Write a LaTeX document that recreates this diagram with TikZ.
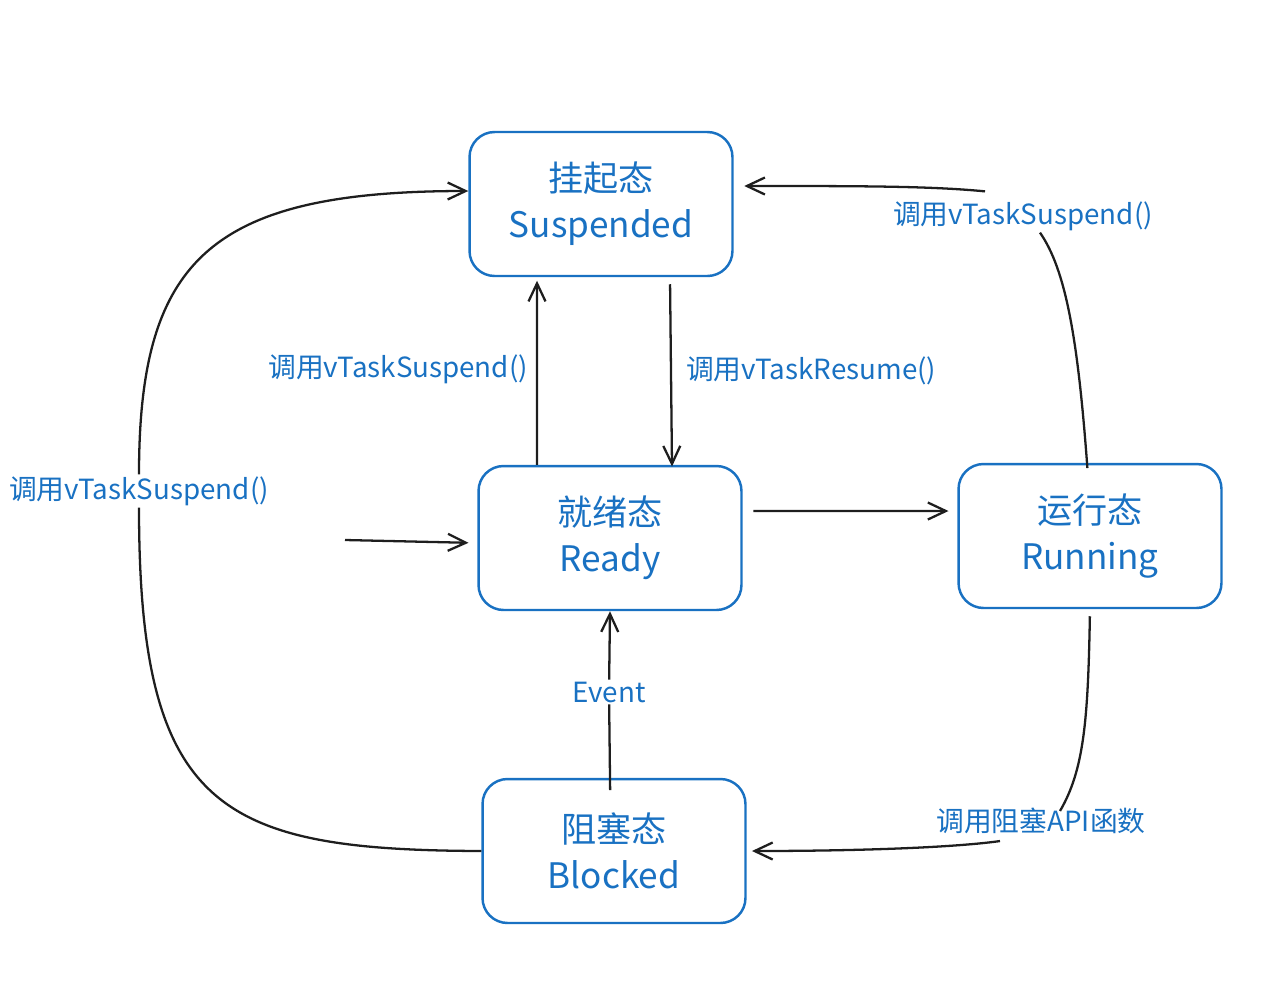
\documentclass[tikz,border=0pt]{standalone}
\usepackage{fontspec}
\setmainfont{Noto Sans CJK SC}
\usetikzlibrary{arrows.meta, positioning, calc}
\definecolor{stateblue}{HTML}{1971C2}
\definecolor{inkblack}{HTML}{1E1E1E}

\begin{document}
\begin{tikzpicture}[x=0.02cm, y=-0.02cm,
  state/.style={draw=stateblue, line width=1.4pt, rounded corners=0.5cm,
    minimum width=5.26cm, minimum height=2.88cm, align=center,
    text=stateblue, font=\fontsize{20}{26}\selectfont},
  lbl/.style={text=stateblue, font=\fontsize{15.8}{17}\selectfont, inner sep=1pt},
  trans/.style={draw=inkblack, line width=1.3pt,
    -{Straight Barb[length=3.6mm, width=3.4mm]}},
  plain/.style={draw=inkblack, line width=1.3pt}]
  \useasboundingbox (0,0) rectangle (1271,981);

  % states
  \node [state] (susp) at (601,204) {挂起态\\Suspended};
  \node [state] (rdy) at (610,538) {就绪态\\Ready};
  \node [state] (run) at (1090,536) {运行态\\Running};
  \node [state] (blk) at (614,851) {阻塞态\\Blocked};

  % labels
  \node [lbl, anchor=east] (lsr) at (530,369) {调用vTaskSuspend()};
  \node [lbl, anchor=west] (lrs) at (684,371) {调用vTaskResume()};
  \node [lbl] (lev) at (609,692) {Event};
  \node [lbl] (lbs) at (139,491) {调用vTaskSuspend()};
  \node [lbl] (lrun) at (1023,216) {调用vTaskSuspend()};
  \node [lbl] (lblk) at (1041,821) {调用阻塞API函数};
  \coordinate (start) at (345,540);

  % ready <-> suspended
  \draw [trans, shorten >=2] ([xshift=-1.46cm]rdy.north) -- ([xshift=-1.28cm]susp.south);
  \draw [trans, shorten <=4, shorten >=-1] ([xshift=1.38cm]susp.south) -- ([xshift=1.24cm]rdy.north);

  % ready -> running, start -> ready
  \draw [trans, shorten <=6, shorten >=5] ([yshift=0.54cm]rdy.east) -- ([yshift=0.5cm]run.west);
  \draw [trans, shorten >=5] (start) -- ([yshift=-0.1cm]rdy.west);

  % blocked -> ready
  \draw [plain, shorten <=-7] ([xshift=-0.08cm]blk.north) -- (lev);
  \draw [trans] (lev) -- (rdy.south);

  % running -> suspended
  \draw [plain, shorten <=-3] ([xshift=-0.06cm]run.north) .. controls (1078,340) and (1066,270) .. ([xshift=0.34cm]lrun.south);
  \draw [trans, shorten >=6] ([xshift=-0.76cm,yshift=0.16cm]lrun.north) .. controls (930,186) and (860,186) .. ([yshift=0.36cm]susp.east);

  % running -> blocked
  \draw [plain, shorten <=4] (run.south) .. controls (1088,720) and (1084,770) .. ([xshift=0.38cm,yshift=-0.1cm]lblk.north);
  \draw [trans, shorten >=3] ([xshift=-0.82cm,yshift=-0.1cm]lblk.south) .. controls (950,848) and (850,851) .. (blk.east);

  % blocked -> suspended
  \draw [plain] (blk.west) .. controls (220,850) and (139,810) .. (lbs.south);
  \draw [trans, shorten >=0] (lbs.north) .. controls (139,260) and (210,191) .. ([yshift=0.26cm]susp.west);
\end{tikzpicture}
\end{document}
